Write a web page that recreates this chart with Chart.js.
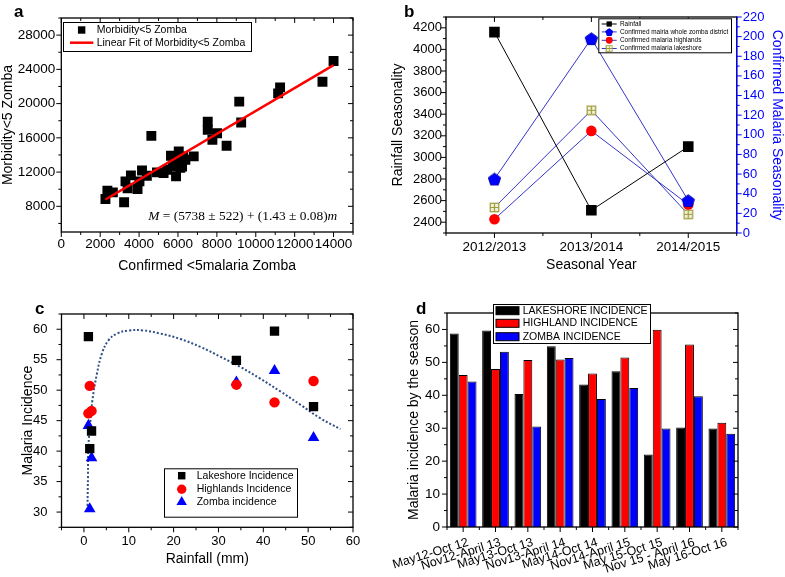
<!doctype html>
<html>
<head>
<title>Malaria and rainfall, Zomba</title>
<script src="https://cdn.jsdelivr.net/npm/chart.js@4.4.1/dist/chart.umd.min.js"></script>
<style>
body { margin: 0; background: #fff; }
#wrap { position: relative; width: 785px; height: 577px; overflow: hidden; background: #fff;
        font-family: "Liberation Sans", Arial, sans-serif; }
#wrap canvas { position: absolute; }
.tag { position: absolute; font-weight: bold; font-size: 17px; line-height: 17px; }
</style>
</head>
<body>
<div id="wrap">
	<canvas id="chartA" width="390" height="290" style="left:0;top:0"></canvas>
	<canvas id="chartB" width="395" height="290" style="left:390px;top:0"></canvas>
	<canvas id="chartC" width="390" height="287" style="left:0;top:290px"></canvas>
	<canvas id="chartD" width="405" height="287" style="left:380px;top:290px"></canvas>
	<div class="tag" style="left:14px;top:3px">a</div>
	<div class="tag" style="left:404px;top:3px">b</div>
	<div class="tag" style="left:35px;top:300px">c</div>
	<div class="tag" style="left:416px;top:300px">d</div>
</div>
<script>
// ---- panel a : morbidity vs confirmed malaria (under five) ----
var confirmedU5 = [2270, 2370, 2650, 3230, 3300, 3410, 3580, 3920, 4020, 4150, 4400, 4630, 4920, 5260,
	5440, 5640, 5730, 5780, 5900, 6040, 6050, 6120, 6210, 6260, 6380, 6810, 7530, 7530, 7770, 8010,
	8500, 9150, 9250, 11150, 11250, 13430, 14000];
var morbidityU5 = [8850, 9830, 9630, 8470, 10910, 10100, 11610, 10020, 10910, 12190, 11570, 16230, 11960, 11880,
	12270, 13900, 12660, 13440, 11500, 14410, 13240, 12500, 12660, 13830, 13440, 13830, 17900, 16930, 15770, 16540,
	15070, 20230, 17790, 21200, 21900, 22560, 24970];
var fitX = [2270, 14000];
var fitY = [8800, 24500];
var xTicksA = [0, 2000, 4000, 6000, 8000, 10000, 12000, 14000];
var yTicksA = [8000, 12000, 16000, 20000, 24000, 28000];

// ---- panel b : seasonal rainfall and confirmed malaria ----
var seasons = ['2012/2013', '2013/2014', '2014/2015'];
var rainfallSeason = [4160, 2510, 3100];
var wholeZomba = [55, 198, 33];
var highlandsSeason = [14, 104, 29];
var lakeshoreSeason = [26, 125, 19];
var yTicksB = [2400, 2600, 2800, 3000, 3200, 3400, 3600, 3800, 4000, 4200];
var y2TicksB = [0, 20, 40, 60, 80, 100, 120, 140, 160, 180, 200, 220];

// ---- panel d : incidence by season ----
var periods = ['May12-Oct 12', 'Nov12-April 13', 'May13-Oct 13', 'Nov13-April 14', 'May14-Oct 14',
	'Nov14-April 15', 'May 15-Oct 15', 'Nov 15 - April 16', 'May 16-Oct 16'];
var lakeshoreInc = [58.8, 59.7, 40.4, 54.9, 43.3, 47.3, 22.0, 30.2, 29.9];
var highlandInc = [46.2, 48.0, 50.7, 50.9, 46.6, 51.5, 59.9, 55.4, 31.7];
var zombaInc = [44.2, 53.2, 30.5, 51.3, 38.9, 42.2, 29.9, 39.7, 28.3];
var yTicksD = [0, 10, 20, 30, 40, 50, 60];

// ---- panel c : incidence vs rainfall (first six seasons) ----
var seasonRainfall = [1.0, 42.5, 1.3, 34.0, 1.7, 51.2];
var trendX = [0.8, 0.9, 1.0, 1.4, 1.9, 2.9, 4.0, 5.5, 7.4, 10.0, 13.3, 17.0, 21.5, 26.0, 30.4, 34.9, 39.3, 43.8, 48.3, 52.7, 57.2];
var trendY = [31.0, 35.9, 40.8, 44.6, 48.4, 52.7, 56.0, 58.2, 59.3, 59.8, 59.8, 59.3, 58.4, 57.1, 55.5, 53.8, 51.9, 49.8, 47.6, 45.4, 43.6];
var xTicksC = [0, 10, 20, 30, 40, 50, 60];
var yTicksC = [30, 35, 40, 45, 50, 55, 60];

Chart.defaults.font.family = "'Liberation Sans', Arial, Helvetica, sans-serif";
Chart.defaults.color = '#000';
Chart.defaults.animation = false;
Chart.defaults.plugins.legend.display = false;
Chart.defaults.plugins.tooltip.enabled = false;

function pairs(xs, ys) {
	return xs.map(function(x, i) { return {x: x, y: ys[i]}; });
}
function fixSize(w, h) {
	return function(scale) {
		if (w !== null) scale.width = w;
		if (h !== null) scale.height = h;
		scale.paddingLeft = scale.paddingRight = scale.paddingTop = scale.paddingBottom = 0;
	};
}
function useTicks(list) {
	return function(scale) {
		scale.ticks = list.map(function(v) { return {value: v}; });
	};
}
function plain(value) {
	return String(value);
}

function pentagonImage(r, fill, edge) {
	var c = document.createElement('canvas');
	var s = Math.ceil(r * 2 + 2);
	c.width = c.height = s;
	var g = c.getContext('2d');
	g.beginPath();
	for (var i = 0; i < 5; i++) {
		var ang = -Math.PI / 2 + i * 2 * Math.PI / 5;
		var px = s / 2 + r * Math.cos(ang), py = s / 2 + r * Math.sin(ang) + r * 0.1;
		if (i === 0) g.moveTo(px, py); else g.lineTo(px, py);
	}
	g.closePath();
	g.fillStyle = fill;
	g.fill();
	g.strokeStyle = edge;
	g.lineWidth = 1;
	g.stroke();
	return c;
}
function squarePlusImage(side, edge, fill) {
	var c = document.createElement('canvas');
	var s = Math.ceil(side + 2);
	c.width = c.height = s;
	var g = c.getContext('2d');
	var o = (s - side) / 2;
	g.fillStyle = fill;
	g.fillRect(o, o, side, side);
	g.strokeStyle = edge;
	g.lineWidth = 1.2;
	g.strokeRect(o, o, side, side);
	g.beginPath();
	g.moveTo(s / 2, o); g.lineTo(s / 2, o + side);
	g.moveTo(o, s / 2); g.lineTo(o + side, s / 2);
	g.stroke();
	return c;
}

function drawMarker(ctx, style, x, y, r, color) {
	ctx.save();
	ctx.fillStyle = color;
	ctx.beginPath();
	if (style === 'circle') {
		ctx.arc(x, y, r, 0, Math.PI * 2);
	} else if (style === 'rect') {
		var h = Math.SQRT1_2 * r;
		ctx.rect(x - h, y - h, 2 * h, 2 * h);
	} else if (style === 'triangle') {
		var a = 0;
		ctx.moveTo(x + Math.sin(a) * r, y - Math.cos(a) * r);
		a += 2 * Math.PI / 3;
		ctx.lineTo(x + Math.sin(a) * r, y - Math.cos(a) * r);
		a += 2 * Math.PI / 3;
		ctx.lineTo(x + Math.sin(a) * r, y - Math.cos(a) * r);
		ctx.closePath();
	}
	ctx.fill();
	ctx.restore();
}

// box with frame and Origin-like tick marks
var framePlugin = {
	id: 'frame',
	afterDatasetsDraw: function(chart, args, o) {
		if (!o || !o.axes) return;
		var ctx = chart.ctx, a = chart.chartArea;
		ctx.save();
		ctx.lineWidth = 1.3;
		ctx.strokeStyle = '#000';
		ctx.strokeRect(a.left, a.top, a.right - a.left, a.bottom - a.top);
		if (o.rightColor) {
			ctx.strokeStyle = o.rightColor;
			ctx.beginPath();
			ctx.moveTo(a.right, a.top - 0.6);
			ctx.lineTo(a.right, a.bottom + 0.6);
			ctx.stroke();
		}
		ctx.lineWidth = 1;
		o.axes.forEach(function(ax) {
			var s = chart.scales[ax.id];
			var major = s.ticks.map(function(t) { return t.value; });
			var minor = [];
			if (ax.minor === 'cat') {
				for (var i = 0; i <= major.length; i++) minor.push(i - 0.5);
			} else if (ax.minor) {
				var step = ax.minor;
				for (var v = Math.ceil(s.min / step - 1e-9) * step; v <= s.max + 1e-9; v += step) {
					var hit = major.some(function(m) { return Math.abs(m - v) < step * 0.01; });
					if (!hit) minor.push(v);
				}
			}
			ctx.strokeStyle = ax.color || '#000';
			[[major, 5], [minor, 3]].forEach(function(set) {
				var len = set[1];
				set[0].forEach(function(v) {
					var p = s.getPixelForValue(v);
					ctx.beginPath();
					if (s.isHorizontal()) {
						ctx.moveTo(p, a.bottom); ctx.lineTo(p, a.bottom + len);
						if (ax.mirror) { ctx.moveTo(p, a.top); ctx.lineTo(p, a.top + len); }
					} else if (s.position === 'right') {
						ctx.moveTo(a.right, p); ctx.lineTo(a.right + len, p);
					} else {
						ctx.moveTo(a.left, p); ctx.lineTo(a.left - len, p);
						if (ax.mirror) { ctx.moveTo(a.right, p); ctx.lineTo(a.right - len, p); }
					}
					ctx.stroke();
				});
			});
		});
		ctx.restore();
	}
};

// legend drawn as a framed white box
var boxLegend = {
	id: 'boxLegend',
	afterDraw: function(chart, args, o) {
		if (!o || !o.items) return;
		var ctx = chart.ctx;
		ctx.save();
		ctx.fillStyle = '#fff';
		ctx.fillRect(o.left, o.top, o.width, o.height);
		ctx.strokeStyle = '#000';
		ctx.lineWidth = 1;
		ctx.strokeRect(o.left + 0.5, o.top + 0.5, o.width, o.height);
		ctx.font = o.font;
		ctx.textBaseline = 'middle';
		ctx.textAlign = 'left';
		o.items.forEach(function(it, i) {
			var ds = chart.data.datasets[it.dataset];
			var y = o.top + o.rows[i];
			var x0 = o.left + o.symbolLeft, x1 = x0 + o.symbolWidth, xc = (x0 + x1) / 2;
			if (it.line) {
				ctx.strokeStyle = ds.borderColor;
				ctx.lineWidth = it.line;
				ctx.beginPath();
				ctx.moveTo(x0, y); ctx.lineTo(x1, y);
				ctx.stroke();
			}
			if (it.bar) {
				ctx.fillStyle = ds.backgroundColor;
				ctx.fillRect(x0, y - it.bar / 2, o.symbolWidth, it.bar);
				ctx.strokeStyle = '#000';
				ctx.lineWidth = 1;
				ctx.strokeRect(x0, y - it.bar / 2, o.symbolWidth, it.bar);
			}
			if (it.marker) {
				var st = ds.pointStyle;
				if (typeof st !== 'string') {
					var w = st.width * it.marker, h = st.height * it.marker;
					ctx.drawImage(st, xc - w / 2, y - h / 2, w, h);
				} else {
					drawMarker(ctx, st, xc, y, ds.pointRadius * it.marker, ds.pointBackgroundColor);
				}
			}
			ctx.fillStyle = '#000';
			ctx.fillText(ds.label, o.left + o.textLeft, y);
		});
		ctx.restore();
	}
};

Chart.register(framePlugin, boxLegend);

function tickOpts(size, pad, extra) {
	var t = {font: {size: size}, padding: pad, callback: plain, maxRotation: 0, autoSkip: false};
	for (var k in extra || {}) t[k] = extra[k];
	return t;
}
var titleFont = {size: 14};

// ================= panel a =================
var equationPlugin = {
	id: 'equation',
	afterDatasetsDraw: function(chart) {
		var ctx = chart.ctx, a = chart.chartArea;
		var parts = [['italic ', 'M'], ['', ' = (5738 \u00b1 522) + (1.43 \u00b1 0.08)'], ['italic ', 'm']];
		var x = a.left + 87, y = a.top + 202;
		ctx.save();
		ctx.fillStyle = '#000';
		ctx.textBaseline = 'alphabetic';
		parts.forEach(function(p) {
			ctx.font = p[0] + '13.4px "Liberation Serif", "Times New Roman", serif';
			ctx.fillText(p[1], x, y);
			x += ctx.measureText(p[1]).width;
		});
		ctx.restore();
	}
};

new Chart(document.getElementById('chartA'), {
	type: 'scatter',
	data: {
		datasets: [{
			label: 'Linear Fit of Morbidity<5 Zomba',
			data: pairs(fitX, fitY),
			showLine: true,
			borderColor: '#ff0000',
			borderWidth: 2.5,
			pointRadius: 0
		}, {
			label: 'Morbidity<5 Zomba',
			data: pairs(confirmedU5, morbidityU5),
			pointStyle: 'rect',
			pointRadius: 7,
			pointBackgroundColor: '#000',
			pointBorderWidth: 0
		}]
	},
	options: {
		responsive: false,
		layout: {padding: {top: 18, right: 37, left: 0, bottom: 0}},
		scales: {
			x: {
				min: 0, max: 15000,
				afterBuildTicks: useTicks(xTicksA),
				afterFit: fixSize(null, 58),
				grid: {display: false, drawTicks: false},
				border: {display: false},
				ticks: tickOpts(13.5, 4),
				title: {display: true, text: 'Confirmed <5malaria Zomba', font: titleFont, padding: {top: 0, bottom: 15}}
			},
			y: {
				min: 5000, max: 30000,
				afterBuildTicks: useTicks(yTicksA),
				afterFit: fixSize(61.3, null),
				grid: {display: false, drawTicks: false},
				border: {display: false},
				ticks: tickOpts(13.5, 6),
				title: {display: true, text: 'Morbidity<5 Zomba', font: titleFont, padding: {top: 0, bottom: 0}}
			}
		},
		plugins: {
			frame: {axes: [{id: 'x', minor: 1000, mirror: true}, {id: 'y', minor: 2000, mirror: true}]},
			boxLegend: {
				left: 63, top: 22, width: 188, height: 29, rows: [8, 20.7],
				symbolLeft: 7, symbolWidth: 23.3, textLeft: 33.7, font: '10.5px "Liberation Sans", Arial, sans-serif',
				items: [{dataset: 1, marker: 0.75}, {dataset: 0, line: 2.5}]
			}
		}
	},
	plugins: [equationPlugin]
});

// ================= panel b =================
var blueLine = '#3535c8';
var pentagon = pentagonImage(6.5, '#0000ff', '#0000b0');
var squarePlus = squarePlusImage(8.5, '#9c9c3c', '#f3f0d6');

new Chart(document.getElementById('chartB'), {
	type: 'line',
	data: {
		labels: seasons,
		datasets: [{
			label: 'Rainfall',
			data: rainfallSeason,
			yAxisID: 'y',
			borderColor: '#000',
			borderWidth: 1,
			pointStyle: 'rect',
			pointRadius: 7.5,
			pointBackgroundColor: '#000',
			pointBorderWidth: 0
		}, {
			label: 'Confirmed mairia whole zomba district',
			data: wholeZomba,
			yAxisID: 'y2',
			borderColor: blueLine,
			borderWidth: 1,
			pointStyle: pentagon,
			pointBackgroundColor: '#0000ff'
		}, {
			label: 'Confirmed malaria highlands',
			data: highlandsSeason,
			yAxisID: 'y2',
			borderColor: blueLine,
			borderWidth: 1,
			pointStyle: 'circle',
			pointRadius: 5.3,
			pointBackgroundColor: '#ff0000',
			pointBorderWidth: 0
		}, {
			label: 'Confirmed malaria lakeshore',
			data: lakeshoreSeason,
			yAxisID: 'y2',
			borderColor: blueLine,
			borderWidth: 1,
			pointStyle: squarePlus,
			pointBackgroundColor: '#9c9c3c'
		}]
	},
	options: {
		responsive: false,
		layout: {padding: {top: 17, right: 0, left: 0, bottom: 0}},
		scales: {
			x: {
				type: 'category',
				offset: true,
				afterFit: fixSize(null, 57),
				grid: {display: false, drawTicks: false},
				border: {display: false},
				ticks: {font: {size: 13.5}, padding: 6, maxRotation: 0},
				title: {display: true, text: 'Seasonal Year', font: titleFont, padding: {top: 0, bottom: 16}}
			},
			y: {
				position: 'left',
				min: 2300, max: 4300,
				afterBuildTicks: useTicks(yTicksB),
				afterFit: fixSize(56, null),
				grid: {display: false, drawTicks: false},
				border: {display: false},
				ticks: tickOpts(13, 4),
				title: {display: true, text: 'Rainfall Seasonality', font: titleFont, padding: {top: 0, bottom: 0}}
			},
			y2: {
				position: 'right',
				min: 0, max: 220,
				afterBuildTicks: useTicks(y2TicksB),
				afterFit: fixSize(48.3, null),
				grid: {display: false, drawTicks: false},
				border: {display: false},
				ticks: tickOpts(13, 6, {color: '#0000ff'}),
				title: {display: true, text: 'Confirmed Malaria Seasonality', color: '#0000ff', font: titleFont, padding: {top: 0, bottom: 0}}
			}
		},
		plugins: {
			frame: {
				rightColor: '#0000ff',
				axes: [{id: 'x', minor: 'cat', mirror: true}, {id: 'y', minor: 100}, {id: 'y2', minor: 10, color: '#0000ff'}]
			},
			boxLegend: {
				left: 208.3, top: 18.3, width: 132.7, height: 34, rows: [5.7, 13.6, 22, 30.2],
				symbolLeft: 3.4, symbolWidth: 15, textLeft: 21.7, font: '6.4px "Liberation Sans", Arial, sans-serif',
				items: [{dataset: 0, line: 1, marker: 0.5}, {dataset: 1, line: 1, marker: 0.6},
					{dataset: 2, line: 1, marker: 0.65}, {dataset: 3, line: 1, marker: 0.7}]
			}
		}
	}
});

// ================= panel c =================
new Chart(document.getElementById('chartC'), {
	type: 'scatter',
	data: {
		datasets: [{
			label: 'Lakeshore Incidence',
			data: pairs(seasonRainfall, lakeshoreInc.slice(0, 6)),
			pointStyle: 'rect',
			pointRadius: 6.6,
			pointBackgroundColor: '#000',
			pointBorderWidth: 0
		}, {
			label: 'Highlands Incidence',
			data: pairs(seasonRainfall, highlandInc.slice(0, 6)),
			pointStyle: 'circle',
			pointRadius: 5.2,
			pointBackgroundColor: '#ff0000',
			pointBorderWidth: 0
		}, {
			label: 'Zomba incidence',
			data: pairs(seasonRainfall, zombaInc.slice(0, 6)),
			pointStyle: 'triangle',
			pointRadius: 6.7,
			pointBackgroundColor: '#0000ff',
			pointBorderWidth: 0
		}, {
			label: 'trend',
			data: pairs(trendX, trendY),
			showLine: true,
			tension: 0.4,
			borderColor: '#2f4f86',
			borderWidth: 2,
			borderDash: [2, 2],
			pointRadius: 0
		}]
	},
	options: {
		responsive: false,
		layout: {padding: {top: 24, right: 37, left: 0, bottom: 0}},
		scales: {
			x: {
				min: -5, max: 60,
				afterBuildTicks: useTicks(xTicksC),
				afterFit: fixSize(null, 49.7),
				grid: {display: false, drawTicks: false},
				border: {display: false},
				ticks: tickOpts(13, 6),
				title: {display: true, text: 'Rainfall (mm)', font: titleFont, padding: {top: 0, bottom: 9}}
			},
			y: {
				min: 27.5, max: 62.5,
				afterBuildTicks: useTicks(yTicksC),
				afterFit: fixSize(61.5, null),
				grid: {display: false, drawTicks: false},
				border: {display: false},
				ticks: tickOpts(13, 14),
				title: {display: true, text: 'Malaria Incidence', font: titleFont, padding: {top: 20, bottom: 0}}
			}
		},
		plugins: {
			frame: {axes: [{id: 'x', minor: 5, mirror: true}, {id: 'y', minor: 2.5, mirror: true}]},
			boxLegend: {
				left: 164, top: 178.3, width: 133, height: 48.4, rows: [7.4, 21, 33.7],
				symbolLeft: 12.7, symbolWidth: 10, textLeft: 32.7, font: '10.5px "Liberation Sans", Arial, sans-serif',
				items: [{dataset: 0, marker: 0.8}, {dataset: 1, marker: 0.9}, {dataset: 2, marker: 0.9}]
			}
		}
	}
});

// ================= panel d =================
new Chart(document.getElementById('chartD'), {
	type: 'bar',
	data: {
		labels: periods,
		datasets: [{
			label: 'LAKESHORE INCIDENCE',
			data: lakeshoreInc,
			backgroundColor: '#000000'
		}, {
			label: 'HIGHLAND INCIDENCE',
			data: highlandInc,
			backgroundColor: '#ff0000'
		}, {
			label: 'ZOMBA INCIDENCE',
			data: zombaInc,
			backgroundColor: '#0000ff'
		}]
	},
	options: {
		responsive: false,
		layout: {padding: {top: 23, right: 47, left: 0, bottom: 0}},
		datasets: {
			bar: {categoryPercentage: 0.825, barPercentage: 1, borderWidth: 1, borderColor: '#000'}
		},
		scales: {
			x: {
				type: 'category',
				offset: true,
				afterFit: fixSize(null, 50),
				grid: {display: false, drawTicks: false},
				border: {display: false},
				ticks: {font: {size: 12.5}, padding: 8, labelOffset: 5, minRotation: 17, maxRotation: 17, autoSkip: false}
			},
			y: {
				min: 0, max: 65,
				afterBuildTicks: useTicks(yTicksD),
				afterFit: fixSize(67, null),
				grid: {display: false, drawTicks: false},
				border: {display: false},
				ticks: tickOpts(13.5, 7),
				title: {display: true, text: 'Malaria incidence by the season', font: titleFont, padding: {top: 26, bottom: 0}}
			}
		},
		plugins: {
			frame: {axes: [{id: 'x', minor: 'cat', mirror: false}, {id: 'y', minor: 5, mirror: true}]},
			boxLegend: {
				left: 113, top: 14, width: 157, height: 39, rows: [6.7, 19.3, 32.7],
				symbolLeft: 3, symbolWidth: 23, textLeft: 29.7, font: '10.5px "Liberation Sans", Arial, sans-serif',
				items: [{dataset: 0, bar: 8}, {dataset: 1, bar: 8}, {dataset: 2, bar: 8}]
			}
		}
	}
});
</script>
</body>
</html>
